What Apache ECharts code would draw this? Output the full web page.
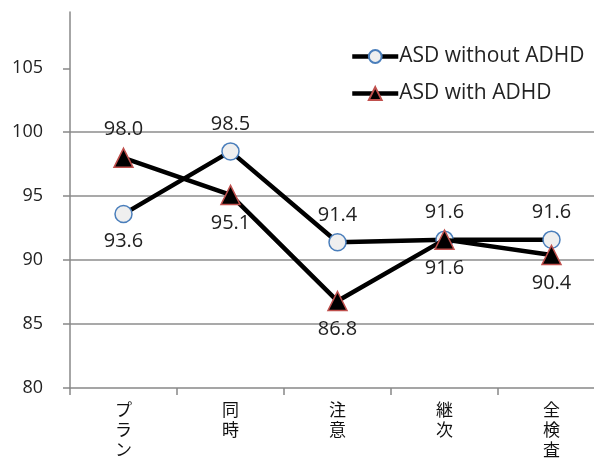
<!DOCTYPE html>
<html>
<head>
<meta charset="utf-8">
<script src="https://cdn.jsdelivr.net/npm/echarts@6/dist/echarts.min.js"></script>
<style>
  html, body { margin: 0; padding: 0; background: #fff; }
  #chart { width: 594px; height: 463px; }
</style>
</head>
<body>
<div id="chart"></div>
<script>
// Scale scores by subtest
const categories = ['プラン', '同時', '注意', '継次', '全検査'];
const withoutAdhd = [93.6, 98.5, 91.4, 91.6, 91.6];
const withAdhd = [98.0, 95.1, 86.8, 91.6, 90.4];
const yTicks = [80, 85, 90, 95, 100, 105];

// label placement per point: above or below the marker
const withoutPos = ['bottom', 'top', 'top', 'top', 'top'];
const withPos = ['top', 'bottom', 'bottom', 'bottom', 'bottom'];

const FONT = '"Open Sans", "Noto Sans CJK JP", sans-serif';

function withLabels(values, positions) {
  return values.map((v, i) => ({
    value: v,
    label: { position: positions[i] }
  }));
}

const chart = echarts.init(document.getElementById('chart'), null, { renderer: 'canvas' });

chart.setOption({
  animation: false,
  backgroundColor: '#ffffff',
  textStyle: { fontFamily: FONT },
  // plot area runs past the right edge of the canvas
  grid: {
    left: 70, width: 535, top: 12, height: 376,
    containLabel: false,
    outerBoundsMode: 'none'
  },
  legend: {
    orient: 'vertical',
    left: 318,
    top: 36,
    padding: [10, 12, 10, 32],
    backgroundColor: '#ffffff',
    itemWidth: 46,
    itemHeight: 16,
    itemGap: 16,
    lineStyle: { width: 4.5 },
    textStyle: { fontSize: 21, color: '#222', fontFamily: FONT, padding: [0, 0, 0, -4] },
    data: ['ASD without ADHD', 'ASD with ADHD']
  },
  xAxis: {
    type: 'category',
    data: categories,
    boundaryGap: true,
    axisLine: { show: true, lineStyle: { color: '#888', width: 1.5 } },
    axisTick: { show: true, length: 7, lineStyle: { color: '#888', width: 1.5 } },
    axisLabel: {
      interval: 0,
      margin: 13,
      color: '#111',
      fontSize: 17,
      lineHeight: 20,
      fontFamily: FONT,
      formatter: v => v.split('').join('\n')
    },
    splitLine: { show: false }
  },
  yAxis: {
    type: 'value',
    min: 80,
    max: 109.4,
    interval: 5,
    axisLine: { show: true, lineStyle: { color: '#888', width: 1.5 } },
    axisTick: { show: true, length: 7, customValues: yTicks, lineStyle: { color: '#888', width: 1.5 } },
    axisLabel: {
      margin: 27,
      color: '#222',
      fontSize: 18,
      fontFamily: FONT,
      customValues: yTicks,
      formatter: v => (v % 5 === 0 ? String(v) : '')
    },
    splitLine: {
      show: true,
      showMinLine: false,
      showMaxLine: false,
      lineStyle: { color: '#8c8c8c', width: 1.5 }
    }
  },
  series: [
    {
      name: 'ASD without ADHD',
      type: 'line',
      data: withLabels(withoutAdhd, withoutPos),
      symbol: 'circle',
      symbolSize: 17,
      lineStyle: { color: '#000', width: 4.5 },
      itemStyle: { color: '#efefef', borderColor: '#4a7ebb', borderWidth: 1.5 },
      label: {
        show: true,
        distance: 8,
        fontSize: 20,
        color: '#222',
        fontFamily: FONT,
        formatter: p => p.value.toFixed(1)
      },
      z: 2
    },
    {
      name: 'ASD with ADHD',
      type: 'line',
      data: withLabels(withAdhd, withPos),
      symbol: 'triangle',
      symbolSize: 19,
      lineStyle: { color: '#000', width: 4.5 },
      itemStyle: { color: '#000', borderColor: '#c0504d', borderWidth: 1.5 },
      label: {
        show: true,
        distance: 8,
        fontSize: 20,
        color: '#222',
        fontFamily: FONT,
        formatter: p => p.value.toFixed(1)
      },
      z: 3
    }
  ]
});
</script>
</body>
</html>
